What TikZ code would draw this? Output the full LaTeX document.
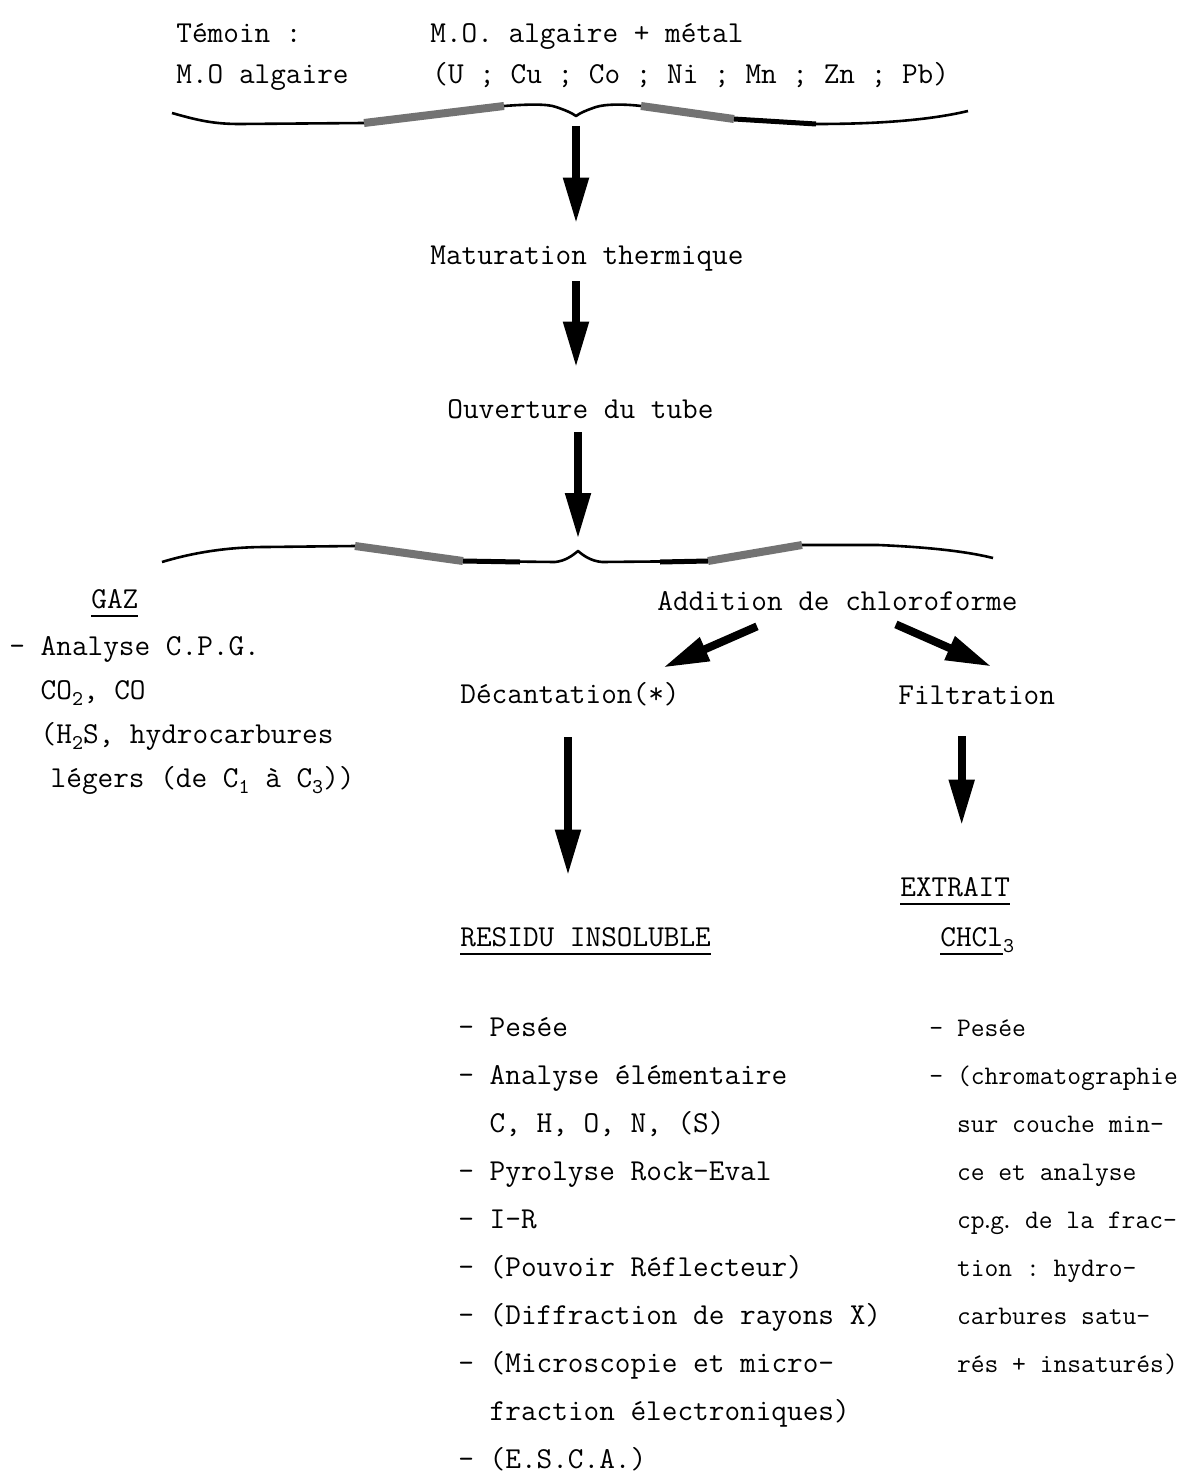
\documentclass[tikz,border=0pt]{standalone}
\usetikzlibrary{arrows.meta,calc}

\newcommand\tapuscrit{\fontsize{15.2}{24}\selectfont\ttfamily\frenchspacing}
\newcommand\tapgaz{\fontsize{15.2}{22}\selectfont\ttfamily\frenchspacing}
\newcommand\tapetroit{\fontsize{13.4}{24}\selectfont\ttfamily\frenchspacing}
\newcommand\indice[1]{\raisebox{-3pt}{\fontsize{10.5}{10.5}\selectfont#1}}
\newsavebox\soulbox
\newcommand\souligne[1]{\sbox\soulbox{#1}\rlap{\rule[-4.5pt]{\wd\soulbox}{0.9pt}}\usebox\soulbox}

\tikzset{
  txt/.style={inner sep=0pt, anchor=base west, text height=11pt, text depth=3pt, font=\tapuscrit},
  liste/.style={inner sep=0pt, anchor=north west, align=left, font=\tapuscrit},
  fleche/.style={line width=4pt, -{Triangle[length=23pt,width=12pt]}},
  accolade/.style={line width=1.3pt, line join=round},
  trame/.style={line width=4pt, black!55},
}

\begin{document}
\begin{tikzpicture}[x=0.5pt, y=-0.5pt]
\path[use as bounding box, fill=white] (0,0) rectangle (1191,1477);

% en-tete
\node (temoin) [txt] at (176,43) {Témoin :};
\node (mometal) [txt] at (430,43) {M.O. algaire + métal};
\node (moalg) [txt] at (176,84) {M.O algaire};
\node (metaux) [txt] at (432,84) {(U ; Cu ; Co ; Ni ; Mn ; Zn ; Pb)};

% accolade du haut
\coordinate (b1) at (576,116);
\draw[accolade] (172,113) .. controls (200,121) and (215,124) .. (240,124) -- (364,123) -- (504,106)
  .. controls (530,104) and (548,104) .. (556,107) .. controls (565,110) and (572,113) .. (b1)
  .. controls (580,113) and (587,110) .. (596,107) .. controls (605,104) and (625,104) .. (641,106)
  -- (734,119) -- (816,124) .. controls (880,124) and (930,120) .. (968,111);
\draw[trame] (364,123) -- (504,106);
\draw[trame] (641,106) -- (734,119);
\draw[line width=2.5pt] (734,119) -- (816,124);

\node (matur) [txt] at (430,264) {Maturation thermique};
\node (ouvert) [txt] at (447,418) {Ouverture du tube};

\draw[fleche, shorten <=5pt, shorten >=9pt] (b1) -- (b1 |- matur.north);
\draw[fleche, shorten <=5.5pt, shorten >=14pt] (b1 |- matur.south) -- (b1 |- ouvert.north);

% accolade du milieu
\coordinate (b2) at (578,551);
\draw[accolade] (162,562) .. controls (195,552) and (230,547) .. (266,547) -- (355,546) -- (463,561) -- (555,562)
  .. controls (565,561) and (572,556) .. (b2) .. controls (584,556) and (591,561) .. (602,562)
  -- (708,561) -- (802,545) -- (878,545) .. controls (925,547) and (965,551) .. (993,558);
\draw[trame] (355,546) -- (463,561);
\draw[trame] (708,561) -- (802,545);
\draw[line width=2.5pt] (463,561) -- (520,562);
\draw[line width=2.5pt] (660,562) -- (708,561);

\draw[fleche, shorten <=4pt, shorten >=6pt] (b2 |- ouvert.south) -- (b2);

% gaz
\node (gaz) [txt] at (91,608) {\souligne{GAZ}};
\node (gazliste) [liste, font=\tapgaz] at (9,624) {\strut- Analyse C.P.G.\\
\phantom{- }CO\indice{2}, CO\\
\phantom{- }(H\indice{2}S, hydrocarbures\\
\phantom{- }\hspace{5pt}légers (de C\indice{1} à C\indice{3}))};

% chloroforme
\node (addition) [txt] at (657,610) {Addition de chloroforme};
\node (decant) [txt] at (460,703) {Décantation(*)};
\node (filtr) [txt] at (898,704) {Filtration};

\draw[fleche] ($(addition.south west)+(100,10)$) -- ($(decant.north east)+(-17,-13)$);
\draw[fleche] ($(addition.south east)+(-122,8)$) -- ($(filtr.north)+(15,-15)$);

\node (extrait) [txt] at (900,896) {\souligne{EXTRAIT}};
\node (resid) [txt] at (460,946) {\souligne{RESIDU INSOLUBLE}};
\node (chcl) [txt] at (940,946) {\souligne{CHCl}\indice{3}};

\coordinate (d6) at ($(decant.south)+(-2,0)$);
\coordinate (f7) at ($(filtr.south)+(-15,0)$);
\draw[fleche, shorten <=14pt, shorten >=24pt] (d6) -- (d6 |- resid.north);
\draw[fleche, shorten <=13pt, shorten >=24pt] (f7) -- (f7 |- extrait.north);

% analyses
\node (residliste) [liste] at (458,1002) {\strut- Pesée\\
- Analyse élémentaire\\
\phantom{- }C, H, O, N, (S)\\
- Pyrolyse Rock-Eval\\
- I-R\\
- (Pouvoir Réflecteur)\\
- (Diffraction de rayons X)\\
- (Microscopie et micro-\\
\phantom{- }fraction électroniques)\\
- (E.S.C.A.)};
\node (extraitliste) [liste, font=\tapetroit] at (929,1002) {\strut- Pesée\\
- (chromatographie\\
\phantom{- }sur couche min-\\
\phantom{- }ce et analyse\\
\phantom{- }cp\kern-0.15em.\kern-0.15em g\kern-0.15em.\kern-0.1em{} de la frac-\\
\phantom{- }tion : hydro-\\
\phantom{- }carbures satu-\\
\phantom{- }rés + insaturés)};
\end{tikzpicture}
\end{document}
